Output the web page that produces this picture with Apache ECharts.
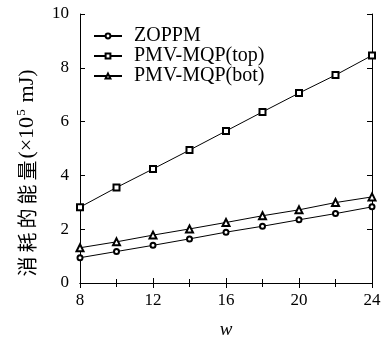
<!DOCTYPE html>
<html>
<head>
<meta charset="utf-8">
<script src="https://cdn.jsdelivr.net/npm/echarts@6/dist/echarts.min.js"></script>
<style>html,body{margin:0;padding:0;background:#fff}#c{width:387px;height:344px}</style>
</head>
<body>
<div id="c"></div>
<script>
var xValues = [8, 10, 12, 14, 16, 18, 20, 22, 24];
var zoppm = [0.94, 1.17, 1.40, 1.64, 1.89, 2.11, 2.35, 2.58, 2.83];
var pmvTop = [2.82, 3.55, 4.24, 4.94, 5.65, 6.36, 7.06, 7.73, 8.46];
var pmvBot = [1.31, 1.53, 1.78, 2.01, 2.25, 2.50, 2.72, 2.99, 3.20];
var seriesNames = ['ZOPPM', 'PMV-MQP(top)', 'PMV-MQP(bot)'];
var xTicks = [8, 12, 16, 20, 24];
var yTicks = [0, 2, 4, 6, 8, 10];
var yTitleCJK = ['消', '耗', '的', '能', '量'];

function pairs(vals) { return xValues.map(function (x, i) { return [x, vals[i]]; }); }
var FONT = 'Liberation Serif';
var chart = echarts.init(document.getElementById('c'), null, { renderer: 'canvas' });
function mkSeries(name, vals, sym, size) {
  return {
    name: name, type: 'line', data: pairs(vals), symbol: sym, symbolSize: size,
    showAllSymbol: true, xAxisIndex: 0, yAxisIndex: 0,
    color: '#000',
    lineStyle: { color: '#000', width: 1 },
    itemStyle: { color: '#000', borderColor: '#000', borderWidth: 0.9 },
    emphasis: { disabled: true }, animation: false
  };
}
var axisLine = { show: true, lineStyle: { color: '#000', width: 1 } };
var titleText = yTitleCJK.map(function (c) { return '{c|' + c + '}'; }).join('') +
  '{l|(×10}{s|5}{l| mJ)}';
chart.setOption({
  animation: false,
  grid: { left: 80, right: 15, top: 14, bottom: 58 },
  legend: {
    orient: 'vertical', left: 88, top: 21, itemGap: 0, itemWidth: 28, itemHeight: 6,
    data: seriesNames,
    textStyle: { fontFamily: FONT, fontSize: 20, lineHeight: 19, color: '#000', padding: [0, 0, 0, 7] }
  },
  xAxis: [{
    type: 'value', min: 8, max: 24, interval: 4,
    name: 'w', nameLocation: 'middle', nameGap: 37,
    nameTextStyle: { fontFamily: FONT, fontStyle: 'italic', fontSize: 19, color: '#000' },
    axisLine: axisLine,
    axisTick: { show: true, inside: true, length: 5, lineStyle: { color: '#000' } },
    minorTick: { show: true, splitNumber: 2, length: 4, lineStyle: { color: '#000' } },
    axisLabel: { margin: 9, fontFamily: FONT, fontSize: 17, color: '#000',
      formatter: function (v) { return xTicks.indexOf(v) >= 0 ? String(v) : ''; } },
    splitLine: { show: false }
  }, {
    type: 'value', position: 'top', min: 8, max: 24, interval: 4,
    axisLine: axisLine,
    axisTick: { show: true, inside: true, length: 5, lineStyle: { color: '#000' } },
    minorTick: { show: true, splitNumber: 2, length: 4, lineStyle: { color: '#000' } },
    axisLabel: { show: false }, splitLine: { show: false }
  }],
  yAxis: [{
    type: 'value', min: 0, max: 10, interval: 2,
    axisLine: axisLine,
    axisTick: { show: true, inside: true, length: 5, lineStyle: { color: '#000' } },
    axisLabel: { margin: 11, fontFamily: FONT, fontSize: 17, color: '#000',
      formatter: function (v) { return yTicks.indexOf(v) >= 0 ? String(v) : ''; } },
    splitLine: { show: false }
  }, {
    type: 'value', position: 'right', min: 0, max: 10, interval: 2,
    axisLine: axisLine,
    axisTick: { show: true, inside: true, length: 5, lineStyle: { color: '#000' } },
    axisLabel: { show: false }, splitLine: { show: false }
  }],
  graphic: [{
    type: 'text', x: 27, y: 174, rotation: Math.PI / 2,
    style: {
      text: titleText,
      align: 'center', verticalAlign: 'middle',
      rich: {
        c: { fontFamily: 'Noto Sans CJK SC', fontSize: 20, width: 24, align: 'center', lineHeight: 24, fill: '#000', color: '#000' },
        l: { fontFamily: FONT, fontSize: 22, lineHeight: 24, fill: '#000', color: '#000' },
        s: { fontFamily: FONT, fontSize: 13, lineHeight: 13, width: 9, align: 'center', verticalAlign: 'top', fill: '#000', color: '#000' }
      }
    }
  }],
  series: [
    mkSeries(seriesNames[0], zoppm, 'emptyCircle', 5),
    mkSeries(seriesNames[1], pmvTop, 'emptyRect', 6),
    mkSeries(seriesNames[2], pmvBot, 'emptyTriangle', 7)
  ]
});
</script>
</body>
</html>
